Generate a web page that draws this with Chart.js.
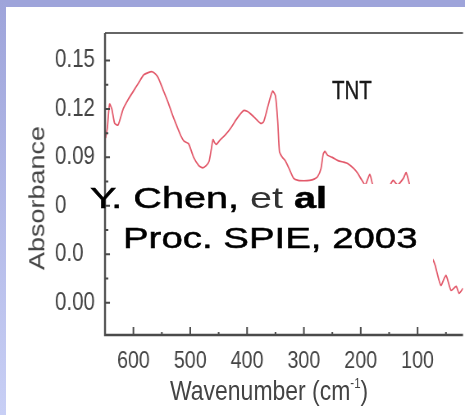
<!DOCTYPE html>
<html lang="en">
<head>
    <meta charset="UTF-8">
    <title>TNT absorbance</title>
    <script src="https://cdn.jsdelivr.net/npm/chart.js"></script>
    <style>
        html, body { margin: 0; padding: 0; }
        body {
            width: 465px; height: 415px; position: relative; overflow: hidden;
            background: #9ea4da;
            font-family: 'Liberation Sans', Arial, sans-serif;
        }
        .strip {
            position: absolute; left: 0; top: 0; width: 6px; height: 415px;
            background: linear-gradient(#9ea4da, #c8cff5);
        }
        .panel { position: absolute; left: 6px; top: 7px; width: 459px; height: 408px; background: #fff; }
        #grafico { position: absolute; left: 0; top: 0; }
        .txt { position: absolute; white-space: nowrap; line-height: 1; }
        .estreito { transform: scaleX(0.82); transform-origin: left top; }
        .cover { position: absolute; left: 112px; top: 184px; width: 321px; height: 116px; background: #fff; }
        .ref { font-size: 30px; color: #000; -webkit-text-stroke: 0.5px #000; transform-origin: left top; }
    </style>
</head>
<body>
    <div class="strip"></div>
    <div class="panel"></div>
    <!-- figura original vem comprimida na horizontal: canvas de 567 px mostrado em 465 px -->
    <canvas id="grafico" width="567" height="415" style="width:465px; height:415px;"></canvas>

    <!-- caixa branca por cima do espectro -->
    <div class="cover"></div>

    <div class="txt estreito" style="left:332px; top:78px; font-size:25px; color:#1a1a1a; -webkit-text-stroke:0.4px #1a1a1a;">TNT</div>
    <div class="txt estreito" style="left:170px; top:376px; font-size:28px; color:#444;">Wavenumber (cm<sup style="font-size:14px; vertical-align:12px;">-1</sup>)</div>
    <div class="txt" style="left:37px; top:198px; font-size:27px; color:#444;
         transform: translate(-50%,-50%) rotate(-90deg) scaleY(0.82);">Absorbance</div>

    <div class="txt ref" style="left:90px; top:183px; transform: scaleX(1.32);">Y. Chen, <span style="color:#333; -webkit-text-stroke:0;">et</span> <b>al</b></div>
    <div class="txt ref" style="left:123px; top:223px; transform: scaleX(1.28);">Proc. SPIE, 2003</div>

    <script>
        // dados do espectro
        const wavenumbers = [649, 646, 642, 638, 633, 627, 618, 609, 600, 591, 582, 574, 567, 561, 556, 548, 540, 531, 522, 516,
                             511, 503, 494, 485, 478, 472, 467, 463, 460, 457, 454, 447, 438, 429, 418, 406, 400, 394, 385, 376,
                             371, 366, 360, 355, 350, 346, 343, 338, 333, 326, 318, 310, 300, 290, 282, 276, 270, 266, 263, 258,
                             250, 240, 230, 223, 212, 205, 200, 192, 184, 178, 165, 150, 143, 135, 125, 120, 114, 100, 85, 72,
                             69, 59, 50, 41, 32, 27, 20];
        const absorbance = [0.102, 0.108, 0.123, 0.120, 0.111, 0.110, 0.120, 0.126, 0.131, 0.136, 0.141, 0.1425, 0.143, 0.1415, 0.139, 0.132, 0.125, 0.116, 0.108, 0.103,
                            0.100, 0.0985, 0.090, 0.0849, 0.0835, 0.0849, 0.0874, 0.095, 0.101, 0.099, 0.098, 0.101, 0.104, 0.108, 0.114, 0.119, 0.1185, 0.117, 0.114, 0.111,
                            0.112, 0.118, 0.126, 0.131, 0.128, 0.112, 0.0936, 0.090, 0.088, 0.083, 0.077, 0.0757, 0.0755, 0.0757, 0.0765, 0.078, 0.083, 0.092, 0.0937, 0.0912,
                            0.090, 0.088, 0.087, 0.0862, 0.083, 0.080, 0.077, 0.073, 0.0795, 0.072, 0.068, 0.072, 0.0757, 0.073, 0.077, 0.0805, 0.073, 0.055, 0.035, 0.026,
                            0.0231, 0.0107, 0.0169, 0.0076, 0.0101, 0.0058, 0.0089];

        const xTickValues = [100, 200, 300, 400, 500, 600];
        const xMinorTicks = [50, 150, 250, 350, 450, 550];
        const yTickValues = [0, 0.03, 0.06, 0.09, 0.12, 0.15];
        const yTickLabels = ['0.00', '0.0', '0', '0.09', '0.12', '0.15'];
        const yMinorTicks = [0.015, 0.045, 0.075, 0.105, 0.135];

        const K = 465 / 567;

        Chart.defaults.font.family = "'Liberation Sans', Arial, sans-serif";

        // eixos com ticks para dentro
        const eixos = {
            id: 'eixos',
            afterDatasetsDraw(chart) {
                const { ctx, chartArea: a, scales: { x, y } } = chart;
                ctx.save();
                ctx.lineWidth = 2;
                ctx.strokeStyle = '#666';
                ctx.beginPath();
                ctx.moveTo(a.left, a.top);
                ctx.lineTo(a.right, a.top);
                ctx.stroke();
                ctx.strokeStyle = '#4a4a4a';
                ctx.lineWidth = 2.4;
                ctx.beginPath();
                ctx.moveTo(a.left, a.top);
                ctx.lineTo(a.left, a.bottom);
                ctx.lineTo(a.right, a.bottom);
                ctx.stroke();

                ctx.lineWidth = 2;
                ctx.beginPath();
                xTickValues.forEach(v => { const p = x.getPixelForValue(v); ctx.moveTo(p, a.bottom); ctx.lineTo(p, a.bottom - 8); });
                xMinorTicks.forEach(v => { const p = x.getPixelForValue(v); ctx.moveTo(p, a.bottom); ctx.lineTo(p, a.bottom - 3); });
                yTickValues.forEach(v => { const p = y.getPixelForValue(v); ctx.moveTo(a.left, p); ctx.lineTo(a.left + 6, p); });
                yMinorTicks.forEach(v => { const p = y.getPixelForValue(v); ctx.moveTo(a.left, p); ctx.lineTo(a.left + 4, p); });
                ctx.stroke();
                ctx.restore();
            }
        };

        const ctx = document.getElementById('grafico').getContext('2d');

        const grafico = new Chart(ctx, {
            type: 'line',
            data: {
                datasets: [{
                    label: 'TNT',
                    data: wavenumbers.map((w, i) => ({ x: w, y: absorbance[i] })),
                    borderColor: '#e2596a',
                    borderWidth: 1.7,
                    pointRadius: 0,
                    tension: 0.2,
                    fill: false
                }]
            },
            options: {
                responsive: false,
                animation: false,
                layout: { padding: { left: 55 / K, top: 33, right: 567 - 463 / K, bottom: 0 } },
                plugins: {
                    legend: { display: false },
                    tooltip: { enabled: false }
                },
                scales: {
                    x: {
                        type: 'linear',
                        reverse: true,
                        min: 20,
                        max: 650,
                        afterFit: s => { s.height = 80; },
                        afterBuildTicks: s => { s.ticks = xTickValues.map(v => ({ value: v })); },
                        grid: { display: false, drawTicks: false },
                        border: { display: false },
                        ticks: {
                            padding: 12,
                            color: '#444',
                            font: { size: 24 },
                            maxRotation: 0,
                            callback: v => String(v)
                        }
                    },
                    y: {
                        type: 'linear',
                        min: -0.02,
                        max: 0.167,
                        afterFit: s => { s.width = 50 / K; },
                        afterBuildTicks: s => { s.ticks = yTickValues.map(v => ({ value: v })); },
                        grid: { display: false, drawTicks: false },
                        border: { display: false },
                        ticks: {
                            crossAlign: 'far',
                            color: '#444',
                            font: { size: 25 },
                            callback: (v, i) => yTickLabels[i]
                        }
                    }
                }
            },
            plugins: [eixos]
        });
    </script>
</body>
</html>
